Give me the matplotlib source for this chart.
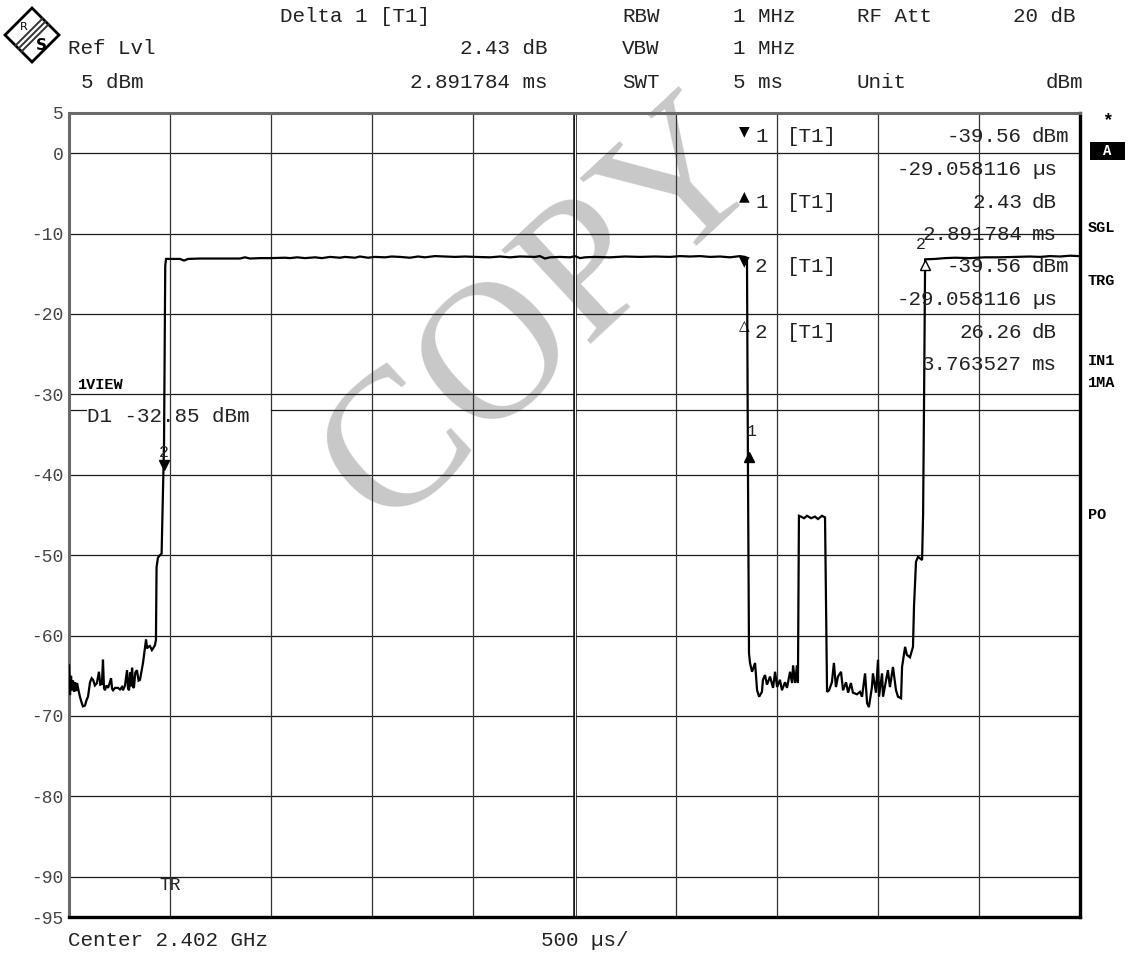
import matplotlib
matplotlib.use("Agg")
import matplotlib.pyplot as plt
import numpy as np
from matplotlib.patches import Polygon, Rectangle
from matplotlib.lines import Line2D

W, H = 1131, 960
MONO = ['Liberation Mono', 'DejaVu Sans Mono', 'DejaVu Sans']
SERIF = ['Liberation Serif', 'DejaVu Serif']

# ---------------- data ----------------
trace_time_ms = [
    0.000, 0.005, 0.010, 0.015, 0.020, 0.025, 0.030, 0.035, 0.040, 0.047,
    0.054, 0.062, 0.069, 0.079, 0.087, 0.094, 0.104, 0.112, 0.119, 0.128,
    0.138, 0.148, 0.155, 0.163, 0.168, 0.173, 0.178, 0.185, 0.193, 0.200,
    0.208, 0.213, 0.218, 0.228, 0.242, 0.252, 0.262, 0.267, 0.277, 0.287,
    0.292, 0.297, 0.302, 0.307, 0.312, 0.317, 0.321, 0.328, 0.336, 0.344,
    0.351, 0.358, 0.366, 0.373, 0.381, 0.386, 0.391, 0.400, 0.410, 0.418,
    0.425, 0.430, 0.433, 0.440, 0.450, 0.458, 0.462, 0.470, 0.476, 0.480,
    0.524, 0.549, 0.569, 0.589, 0.648, 0.747, 0.846, 0.870, 0.895, 0.945,
    0.994, 1.068, 1.093, 1.128, 1.167, 1.217, 1.251, 1.291, 1.340, 1.365,
    1.414, 1.439, 1.479, 1.513, 1.563, 1.597, 1.637, 1.686, 1.726, 1.761,
    1.810, 1.860, 1.909, 1.958, 2.008, 2.082, 2.132, 2.181, 2.230, 2.305,
    2.329, 2.354, 2.379, 2.428, 2.478, 2.502, 2.527, 2.552, 2.601, 2.675,
    2.750, 2.824, 2.898, 2.972, 3.022, 3.071, 3.121, 3.170, 3.220, 3.269,
    3.318, 3.343, 3.353, 3.358, 3.363, 3.368, 3.378, 3.393, 3.403, 3.413,
    3.427, 3.432, 3.442, 3.452, 3.467, 3.482, 3.492, 3.502, 3.516, 3.526,
    3.541, 3.551, 3.566, 3.576, 3.581, 3.591, 3.600, 3.605, 3.610, 3.620,
    3.635, 3.650, 3.670, 3.689, 3.704, 3.724, 3.739, 3.744, 3.749, 3.759,
    3.773, 3.783, 3.793, 3.803, 3.818, 3.828, 3.843, 3.853, 3.867, 3.877,
    3.897, 3.912, 3.922, 3.937, 3.947, 3.956, 3.971, 3.976, 3.991, 4.001,
    4.006, 4.021, 4.026, 4.041, 4.050, 4.060, 4.075, 4.090, 4.100, 4.115,
    4.120, 4.135, 4.144, 4.159, 4.174, 4.179, 4.189, 4.199, 4.219, 4.224,
    4.229, 4.234, 4.283, 4.332, 4.382, 4.456, 4.530, 4.604, 4.678, 4.753,
    4.802, 4.852, 4.901, 4.951, 5.000,
]
trace_level_dbm = [
    -63.7, -67.4, -65.0, -66.8, -65.6, -67.0, -65.8, -66.9, -65.9, -66.8,
    -67.6, -68.3, -68.8, -68.7, -68.0, -67.6, -65.8, -65.3, -65.5, -66.2,
    -65.9, -64.5, -66.1, -66.0, -63.0, -66.5, -66.8, -66.2, -66.5, -66.0,
    -65.3, -66.6, -66.8, -66.5, -66.5, -66.7, -66.4, -66.8, -66.2, -64.3,
    -66.6, -66.8, -64.6, -66.3, -64.0, -66.4, -66.5, -64.6, -64.3, -65.6,
    -65.5, -64.5, -63.4, -62.0, -60.5, -61.6, -61.4, -61.3, -61.8, -61.5,
    -61.2, -60.5, -51.5, -50.3, -50.0, -49.8, -45.0, -36.0, -14.0, -13.15,
    -13.15, -13.15, -13.35, -13.15, -13.1, -13.1, -13.1, -12.95, -13.1, -13.05,
    -13.05, -13.0, -13.05, -12.95, -13.05, -12.95, -13.05, -12.9, -13.0, -12.9,
    -13.0, -12.85, -13.0, -12.9, -12.95, -12.85, -12.9, -13.0, -12.85, -12.95,
    -12.8, -12.85, -12.9, -12.85, -12.9, -12.95, -12.85, -12.95, -12.85, -12.9,
    -12.8, -13.1, -12.95, -12.9, -12.95, -12.8, -13.05, -12.95, -12.9, -12.95,
    -12.85, -12.9, -12.85, -12.9, -12.8, -12.85, -12.8, -12.9, -12.85, -12.95,
    -12.8, -12.9, -13.0, -40.0, -62.2, -63.4, -64.5, -63.4, -66.8, -67.6,
    -67.0, -65.5, -64.9, -66.1, -65.1, -66.5, -64.5, -66.4, -65.5, -66.8,
    -65.8, -66.5, -64.5, -65.9, -63.7, -65.9, -63.7, -65.9, -45.1, -45.2,
    -45.4, -45.1, -45.4, -45.2, -45.5, -45.1, -45.3, -56.2, -67.0, -66.8,
    -65.8, -63.4, -66.4, -65.1, -64.5, -66.8, -65.8, -67.1, -65.9, -67.1,
    -67.3, -67.0, -67.6, -64.7, -68.4, -68.9, -66.4, -64.7, -67.1, -63.0,
    -67.6, -64.7, -67.6, -65.5, -64.3, -66.4, -63.9, -66.8, -67.6, -67.8,
    -63.9, -61.4, -62.4, -62.7, -61.4, -56.4, -50.8, -50.2, -50.6, -45.0,
    -30.0, -13.2, -13.15, -13.05, -13.0, -13.05, -12.95, -12.95, -12.9, -12.85,
    -12.9, -12.8, -12.85, -12.75, -12.8,
]

ytick_values = [5, 0, -10, -20, -30, -40, -50, -60, -70, -80, -90, -95]
ytick_labels = ['5', '0', '-10', '-20', '-30', '-40', '-50', '-60', '-70', '-80', '-90', '-95']

display_line_label = 'D1 -32.85 dBm'
display_line_dbm = -31.9

marker_labels = ['2', '1', '2']
marker_times_ms = [0.470, 3.363, 4.234]
marker_levels_dbm = [-38.8, -37.8, -13.9]
marker_symbols = ['v', '^', '^']
marker_filled = [True, True, False]
marker_label_offsets = [(0, 4), (2, 13), (-3, 9)]

header_texts = [
    # (text, x_px, y_px, ha)
    ('Delta 1 [T1]', 280, 17, 'left'), ('RBW', 622, 17, 'left'),
    ('1 MHz', 733, 17, 'left'), ('RF Att', 857, 17, 'left'), ('20 dB', 1013, 17, 'left'),
    ('Ref Lvl', 68, 49, 'left'), ('2.43 dB', 548, 49, 'right'),
    ('VBW', 622, 49, 'left'), ('1 MHz', 733, 49, 'left'),
    ('5 dBm', 81, 83, 'left'), ('2.891784 ms', 548, 83, 'right'),
    ('SWT', 622, 83, 'left'), ('5 ms', 733, 83, 'left'), ('Unit', 857, 83, 'left'),
    ('dBm', 1083, 83, 'right'),
    ('Center 2.402 GHz', 68, 941, 'left'), ('500 \u00b5s/', 541, 941, 'left'),
]

table_symbols = ['\u25bc', '', '\u25b2', '', '\u25bc', '', '\u25b3', '']
table_numbers = ['1', '', '1', '', '2', '', '2', '']
table_tags = ['[T1]', '', '[T1]', '', '[T1]', '', '[T1]', '']
table_values = ['-39.56', '-29.058116', '2.43', '2.891784', '-39.56', '-29.058116', '26.26', '3.763527']
table_units = ['dBm', '\u00b5s', 'dB', 'ms', 'dBm', '\u00b5s', 'dB', 'ms']
table_rows_y = [137, 169.5, 202, 234.5, 267, 299.5, 332, 364.5]

side_labels = [('SGL', 228), ('TRG', 281), ('IN1', 361), ('1MA', 383), ('PO', 515)]

# ---------------- figure ----------------
fig = plt.figure(figsize=(W / 100, H / 100), dpi=100)
fig.patch.set_facecolor('white')


def fx(x):
    return x / W


def fy(y):
    return 1 - y / H


AX_L, AX_R, AX_T, AX_B = 69, 1080, 113, 917
ax = fig.add_axes([fx(AX_L), fy(AX_B), (AX_R - AX_L) / W, (AX_B - AX_T) / H])
ax.patch.set_alpha(0)
ax.set_xlim(0, 5)
ax.set_ylim(-95, 5)

# grid
for v in np.arange(-90, 1, 10):
    ax.axhline(v, color='#1a1a1a', lw=0.9, zorder=1)
for t in np.arange(0.5, 5.0, 0.5):
    if abs(t - 2.5) < 1e-9:
        ax.axvline(t, color='#1a1a1a', lw=2.6, zorder=1)
        ax.axvline(t, color='white', lw=0.7, zorder=1.1)
    else:
        ax.axvline(t, color='#333333', lw=0.9, zorder=1)

# frame
for side in ('left', 'top'):
    ax.spines[side].set_color('#6a6a6a')
    ax.spines[side].set_linewidth(2.2)
for side in ('right', 'bottom'):
    ax.spines[side].set_color('black')
    ax.spines[side].set_linewidth(2.4)

ax.set_xticks([])
ax.set_yticks(ytick_values)
ax.set_yticklabels(ytick_labels, family=MONO, fontsize=13, color='#444444')
ax.tick_params(axis='y', length=0, pad=4)

# display line D1
gap_l = (86 - AX_L) / (AX_R - AX_L)
gap_r = (271 - AX_L) / (AX_R - AX_L)
ax.axhline(display_line_dbm, xmin=0, xmax=gap_l, color='#1a1a1a', lw=0.9, zorder=1)
ax.axhline(display_line_dbm, xmin=gap_r, xmax=1, color='#1a1a1a', lw=0.9, zorder=1)
fig.text(fx(87), fy(416), display_line_label, family=MONO, fontsize=15,
         ha='left', va='center', color='#222222')

# trace
ax.plot(trace_time_ms, trace_level_dbm, color='black', lw=1.6, zorder=4,
        solid_joinstyle='miter')

# markers on trace
for lab, t, lv, sym, filled, off in zip(marker_labels, marker_times_ms, marker_levels_dbm,
                                        marker_symbols, marker_filled, marker_label_offsets):
    ax.plot([t], [lv], marker=sym, ms=7, mfc='black' if filled else 'white',
            mec='black', mew=1.0, zorder=5, linestyle='none')
    ax.annotate(lab, (t, lv), xytext=off, textcoords='offset points',
                family=MONO, fontsize=12, ha='center', va='bottom', color='#222222', zorder=6)

# marker table
for sym, num, tag, val, unit, yy in zip(table_symbols, table_numbers, table_tags,
                                        table_values, table_units, table_rows_y):
    if sym:
        fig.text(fx(744), fy(yy - 6), sym, family=['DejaVu Sans'], fontsize=10,
                 ha='center', va='center', color='black')
    if num:
        fig.text(fx(755), fy(yy), num, family=MONO, fontsize=15, ha='left', va='center',
                 color='#222222')
    if tag:
        fig.text(fx(787), fy(yy), tag, family=MONO, fontsize=15, ha='left', va='center',
                 color='#222222')
    fig.text(fx(1022), fy(yy), val, family=MONO, fontsize=15, ha='right', va='center',
             color='#222222')
    fig.text(fx(1032), fy(yy), unit, family=MONO, fontsize=15, ha='left', va='center',
             color='#222222')

# labels inside plot
fig.text(fx(78), fy(385), '1VIEW', family=MONO, fontsize=11, fontweight='bold',
         ha='left', va='center', color='black')
fig.text(fx(170), fy(885), 'TR', family=MONO, fontsize=13, ha='center', va='center',
         color='#222222')

# header / footer
for s, x, y, ha in header_texts:
    fig.text(fx(x), fy(y), s, family=MONO, fontsize=15, ha=ha, va='center', color='#222222')

# right side labels
fig.text(fx(1107), fy(121), '*', family=MONO, fontsize=13, fontweight='bold',
         ha='center', va='center', color='black')
fig.add_artist(Rectangle((fx(1090), fy(160)), (1125 - 1090) / W, (160 - 142) / H,
                         transform=fig.transFigure, facecolor='black', edgecolor='none'))
fig.text(fx(1107), fy(151), 'A', family=MONO, fontsize=10, fontweight='bold',
         ha='center', va='center', color='white')
for s, y in side_labels:
    fig.text(fx(1088), fy(y), s, family=MONO, fontsize=11, fontweight='bold',
             ha='left', va='center', color='black')

# R&S logo
cx, cy, r = 32, 35, 27
diamond = Polygon([(fx(cx), fy(cy - r)), (fx(cx + r), fy(cy)), (fx(cx), fy(cy + r)),
                   (fx(cx - r), fy(cy))], closed=True, transform=fig.transFigure,
                  facecolor='white', edgecolor='black', lw=2)
fig.add_artist(diamond)
for d in (-3, 0, 3):
    fig.add_artist(Line2D([fx(cx + 13.5 + d), fx(cx - 13.5 + d)],
                          [fy(cy - 13.5 + d), fy(cy + 13.5 + d)],
                          transform=fig.transFigure, color='#333333', lw=1.4))
fig.text(fx(24), fy(27), 'R', family=['DejaVu Sans'], fontsize=8, ha='center', va='center')
fig.text(fx(41), fy(45), 'S', family=['DejaVu Sans'], fontsize=11, fontweight='bold',
         ha='center', va='center')

# watermark
fig.text(fx(545), fy(315), 'COPY', family=SERIF, fontsize=142, rotation=43,
         ha='center', va='center', color='#c8c8c8', zorder=-1)

fig.savefig('out.png', dpi=100, facecolor='white')
